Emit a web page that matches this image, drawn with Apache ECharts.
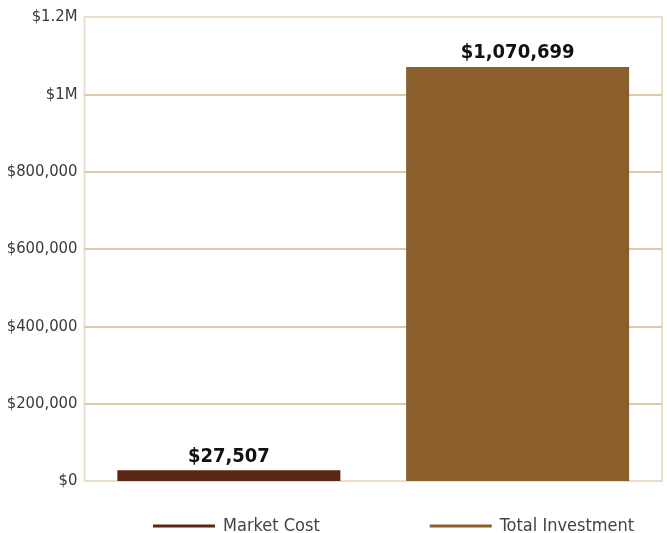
<!DOCTYPE html>
<html>
<head>
<meta charset="utf-8">
<script src="https://cdn.jsdelivr.net/npm/echarts@6/dist/echarts.min.js"></script>
<style>html,body{margin:0;padding:0;background:#fff;}#c{width:667px;height:533px;}</style>
</head>
<body>
<div id="c"></div>
<script>
const categories = ['Market Cost', 'Total Investment'];
const seriesNames = ['Market Cost', 'Total Investment'];
const marketCost = [27507, null];
const totalInvestment = [null, 1070699];
const yTicks = [0, 200000, 400000, 600000, 800000, 1000000, 1200000];
const yTickLabels = ['$0', '$200,000', '$400,000', '$600,000', '$800,000', '$1M', '$1.2M'];

const FONT = "'Liberation Sans Narrow', 'DejaVu Sans Condensed', 'Roboto Condensed', sans-serif";
const chart = echarts.init(document.getElementById('c'));
function fmtMoney(v) { return '$' + Number(v).toLocaleString('en-US'); }
const labelCfg = {
  show: true, position: 'top', distance: 4,
  fontFamily: FONT, fontWeight: 'bold', fontSize: 20, color: '#111',
  formatter: p => fmtMoney(p.value)
};
chart.setOption({
  animation: false,
  grid: {
    left: 84.5, right: 5, top: 17, bottom: 52,
    outerBoundsMode: 'none', containLabel: false,
    show: true, borderColor: '#e9dec8', borderWidth: 2, backgroundColor: '#fff'
  },
  legend: {
    left: 148, top: 512, width: 515, orient: 'horizontal',
    icon: 'rect', itemWidth: 62, itemHeight: 3, itemGap: 110,
    textStyle: { fontFamily: FONT, fontSize: 18, color: '#444', padding: [0, 0, 0, 3] },
    data: seriesNames
  },
  xAxis: {
    type: 'category', data: categories,
    axisLine: { show: false }, axisTick: { show: false }, axisLabel: { show: false },
    splitLine: { show: false }
  },
  yAxis: {
    type: 'value', min: 0, max: 1200000, interval: 200000,
    axisLine: { show: false }, axisTick: { show: false },
    axisLabel: {
      margin: 7, fontFamily: FONT, fontSize: 16.5, color: '#3a3a3a',
      formatter: v => { const i = yTicks.indexOf(v); return i >= 0 ? yTickLabels[i] : ''; }
    },
    splitLine: { show: true, showMinLine: false, showMaxLine: false, lineStyle: { color: '#dccba6', width: 2 } }
  },
  series: [
    { name: seriesNames[0], type: 'bar', data: marketCost, barWidth: 223, barGap: '-100%',
      itemStyle: { color: '#5b2615' }, label: labelCfg },
    { name: seriesNames[1], type: 'bar', data: totalInvestment, barWidth: 223, barGap: '-100%',
      itemStyle: { color: '#8a5f2b' }, label: labelCfg }
  ]
});
</script>
</body>
</html>
